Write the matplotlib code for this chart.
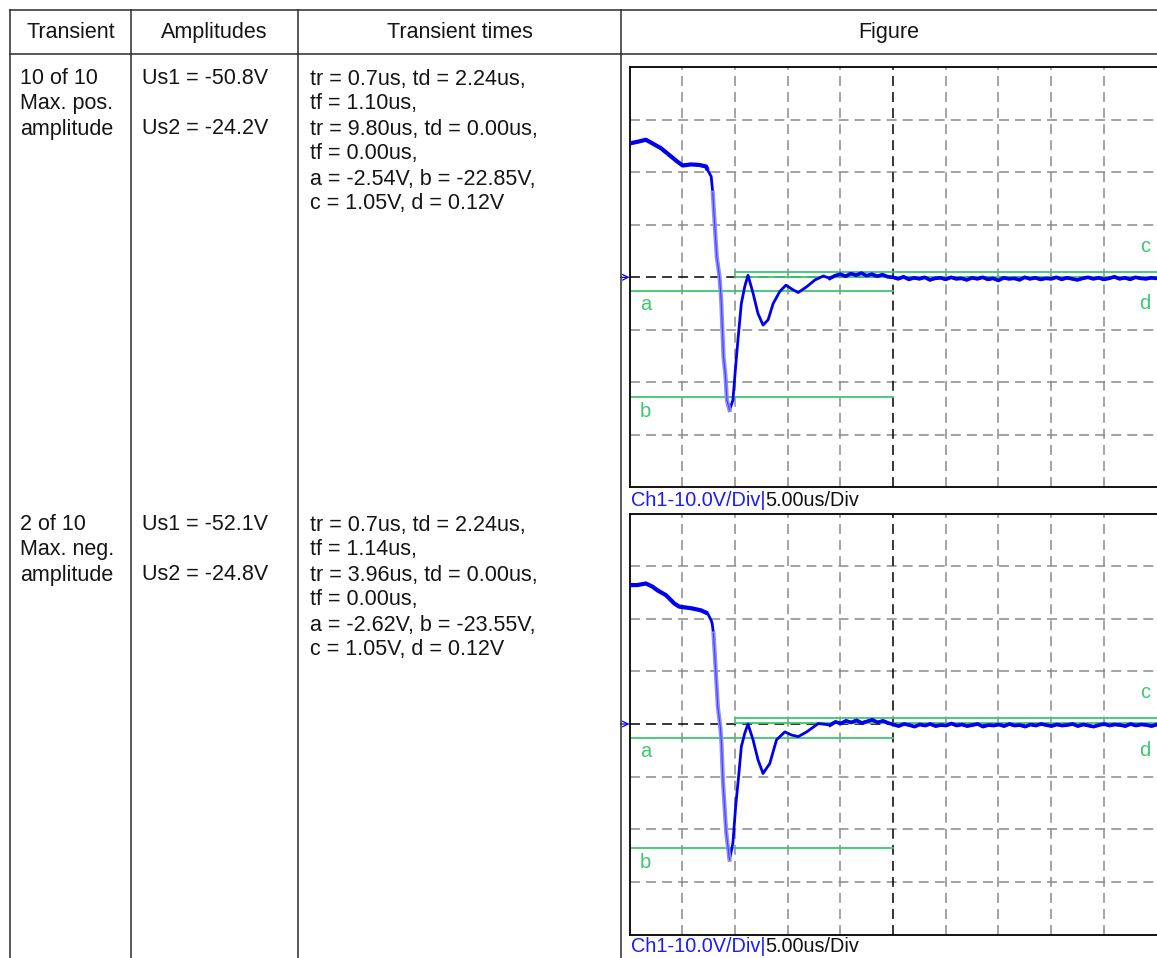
import numpy as np
import matplotlib
matplotlib.use("Agg")
import matplotlib.pyplot as plt
from matplotlib.lines import Line2D

plt.rcParams['font.family'] = ['Liberation Sans', 'DejaVu Sans']

# ---------------- data ----------------
headers = ["Transient", "Amplitudes", "Transient times", "Figure"]

row1_transient = ["10 of 10", "Max. pos.", "amplitude"]
row1_amplitudes = ["Us1 = -50.8V", "", "Us2 = -24.2V"]
row1_times = ["tr = 0.7us, td = 2.24us,", "tf = 1.10us,",
              "tr = 9.80us, td = 0.00us,", "tf = 0.00us,",
              "a = -2.54V, b = -22.85V,", "c = 1.05V, d = 0.12V"]

row2_transient = ["2 of 10", "Max. neg.", "amplitude"]
row2_amplitudes = ["Us1 = -52.1V", "", "Us2 = -24.8V"]
row2_times = ["tr = 0.7us, td = 2.24us,", "tf = 1.14us,",
              "tr = 3.96us, td = 0.00us,", "tf = 0.00us,",
              "a = -2.62V, b = -23.55V,", "c = 1.05V, d = 0.12V"]

# cursor levels (V)
levels1 = {"a": -2.54, "b": -22.85, "c": 1.05, "d": 0.12}
levels2 = {"a": -2.62, "b": -23.55, "c": 1.05, "d": 0.12}

# waveform 1 (time in us, voltage in V)
t1 = [0.0, 0.74, 1.55, 2.18, 2.98, 3.77, 4.56, 5.04, 5.84, 6.63, 7.27, 7.42,
      7.75, 7.90, 8.06, 8.28, 8.54, 8.70, 8.80, 8.92, 9.11, 9.24, 9.49,
      9.81, 10.07, 10.29, 10.61, 10.93, 11.24, 11.72, 12.19, 12.67, 13.15,
      13.63, 14.26, 14.84, 15.53, 16.01, 16.81, 17.60, 18.40, 19.00]
v1 = [25.5, 25.8, 26.2, 25.5, 24.6, 23.3, 22.0, 21.3, 21.5, 21.4, 21.1, 20.4,
      19.2, 16.1, 10.9, 3.9, 0.1, -4.3, -9.4, -15.1, -18.9, -23.4, -25.3,
      -23.4, -17.0, -11.9, -5.0, -1.8, 0.4, -3.0, -6.9, -9.1, -8.1,
      -5.0, -2.7, -1.5, -2.4, -2.9, -1.8, -0.5, 0.25, -0.2]
tail1 = [0.3, 0.6, 0.2, 0.7, 0.4, 0.8, 0.3, 0.6, 0.2, 0.5, 0.1,
         0.0, -0.3, 0.1, -0.4, -0.1, -0.3, 0.0, -0.5, -0.2, -0.1, -0.4, 0.0,
         -0.3, -0.2, -0.5, -0.1, -0.3, 0.0, -0.4, -0.2, -0.6, -0.1, -0.3,
         -0.2, -0.5, 0.0, -0.3, -0.1, -0.4, -0.2, -0.3, 0.0, -0.4, -0.1,
         -0.3, -0.5, -0.2, 0.0, -0.3, -0.1, -0.4, -0.2, 0.1, -0.3, -0.1,
         -0.4, 0.0, -0.2, -0.3, -0.1, -0.2]

# waveform 2
t2 = [0.0, 0.74, 1.55, 2.18, 2.65, 3.45, 4.25, 4.72, 5.84, 6.79, 7.42, 7.75,
      7.84, 7.97, 8.16, 8.38, 8.61, 8.73, 8.86, 9.02, 9.18, 9.49,
      9.81, 10.07, 10.38, 10.61, 10.93, 11.24, 11.72, 12.19, 12.67, 13.31,
      13.95, 14.74, 15.38, 16.01, 16.81, 17.92, 19.04]
v2 = [26.4, 26.4, 26.7, 26.1, 25.4, 24.5, 22.9, 22.3, 22.0, 21.6, 21.0, 19.7,
      19.1, 17.2, 10.9, 3.3, -0.5, -3.7, -10.6, -15.7, -20.7, -25.8,
      -22.6, -15.7, -9.4, -4.3, -1.8, 0.0, -3.0, -6.8, -9.4, -7.5,
      -3.0, -1.5, -2.1, -2.4, -1.5, 0.1, -0.2]
tail2 = [0.4, 0.1, 0.6, 0.3, 0.7, 0.2, 0.5, 0.8, 0.3, 0.6, 0.2,
         -0.1, -0.4, 0.0, -0.2, -0.5, -0.1, -0.3, 0.0, -0.4, -0.2, -0.3, 0.1,
         -0.3, -0.1, -0.4, -0.2, 0.0, -0.5, -0.2, -0.3, -0.1, -0.4, 0.0,
         -0.3, -0.2, -0.5, -0.1, -0.3, 0.0, -0.2, -0.4, -0.1, -0.3, -0.2,
         0.0, -0.4, -0.1, -0.3, -0.5, -0.2, 0.0, -0.3, -0.1, -0.2, -0.4,
         0.0, -0.3, -0.1, -0.2, -0.4, -0.1]

scope_label_ch = "Ch1-10.0V/Div|"
scope_label_time = "5.00us/Div"

# ---------------- figure ----------------
W, H = 1157, 958
fig = plt.figure(figsize=(W / 100, H / 100), dpi=100)
fig.patch.set_facecolor("white")


def fx(x):
    return x / W


def fy(y):
    return 1 - y / H


LC = "#2b2b2b"
LW = 1.1


def hline(y, x0, x1):
    fig.add_artist(Line2D([fx(x0), fx(x1)], [fy(y), fy(y)], color=LC, lw=LW))


def vline(x, y0, y1):
    fig.add_artist(Line2D([fx(x), fx(x)], [fy(y0), fy(y1)], color=LC, lw=LW))


# table grid
hline(10, 10, W + 2)
hline(54, 10, W + 2)
for x in [10, 131, 298, 621]:
    vline(x, 10, H + 2)

FS = 15.5
TXT = "#151515"
header_cx = [70.5, 214.5, 459.5, 889]
for h, cx in zip(headers, header_cx):
    fig.text(fx(cx), fy(32.5), h, ha="center", va="center", fontsize=FS, color=TXT)

LINE = 25.0


def draw_row(y0, col1, col2, col3):
    for i, s in enumerate(col1):
        fig.text(fx(20), fy(y0 + i * LINE), s, ha="left", va="center", fontsize=FS, color=TXT)
    for i, s in enumerate(col2):
        if s:
            fig.text(fx(142), fy(y0 + i * LINE), s, ha="left", va="center", fontsize=FS, color=TXT)
    for i, s in enumerate(col3):
        fig.text(fx(310), fy(y0 + i * LINE), s, ha="left", va="center", fontsize=FS, color=TXT)


draw_row(79, row1_transient, row1_amplitudes, row1_times)
draw_row(525, row2_transient, row2_amplitudes, row2_times)

GREEN = "#3cc870"
BLUE = "#0000ee"
LIGHT = "#8c8cff"


def scope(box, t, v, tail, lev, label_y):
    left, top, right, bottom = box
    ax = fig.add_axes([fx(left), fy(bottom), fx(right) - fx(left), fy(top) - fy(bottom)])
    ax.set_xlim(0, 50)
    ax.set_ylim(-40, 40)
    ax.set_xticks([])
    ax.set_yticks([])
    for s in ["left", "top", "bottom"]:
        ax.spines[s].set_color("black")
        ax.spines[s].set_linewidth(1.3)
    ax.spines["right"].set_visible(False)
    dash = (0, (6.5, 4.0))
    for xv in [5, 10, 15, 20, 30, 35, 40, 45]:
        ax.axvline(xv, color="#8a8a8a", lw=1.1, linestyle=dash, zorder=1)
    for yv in [-30, -20, -10, 10, 20, 30]:
        ax.axhline(yv, color="#8a8a8a", lw=1.1, linestyle=dash, zorder=1)
    ax.axvline(25, color="black", lw=1.1, linestyle=dash, zorder=1)
    ax.axhline(0, color="black", lw=1.1, linestyle=dash, zorder=1)

    # cursors
    ax.plot([0, 25], [lev["a"]] * 2, color=GREEN, lw=1.3, zorder=2)
    ax.plot([0, 25], [lev["b"]] * 2, color=GREEN, lw=1.3, zorder=2)
    ax.plot([10, 50], [lev["c"]] * 2, color=GREEN, lw=1.3, zorder=2)
    ax.plot([10, 50], [lev["d"]] * 2, color=GREEN, lw=1.3, zorder=2)
    lf = 14.5
    ax.text(1.0, lev["a"] - 2.7, "a", color=GREEN, fontsize=lf, ha="left", va="center")
    ax.text(1.0, lev["b"] - 2.7, "b", color=GREEN, fontsize=lf, ha="left", va="center")
    ax.text(49.4, lev["c"] + 4.9, "c", color=GREEN, fontsize=lf, ha="right", va="center")
    ax.text(49.4, lev["d"] - 5.1, "d", color=GREEN, fontsize=lf, ha="right", va="center")

    tail_t = list(t[-1] + 0.5 + 0.5 * np.arange(len(tail)))
    tt = list(t) + tail_t
    vv = list(v) + list(tail)
    ax.plot(tt, vv, color=BLUE, lw=2.0, zorder=3, solid_joinstyle="round")
    # noisy, thicker head and tail
    ih = next(i for i, x in enumerate(t) if x >= 7.4)
    ax.plot(t[:ih + 1], v[:ih + 1], color=BLUE, lw=3.0, zorder=3,
            solid_joinstyle="round", solid_capstyle="butt")
    ax.plot([t[-1]] + tail_t, [v[-1]] + list(tail), color=BLUE, lw=2.6, zorder=3,
            solid_joinstyle="round")
    # faint fast falling edge
    i0 = next(i for i, x in enumerate(t) if x >= 7.85)
    i1 = int(np.argmin(v))
    ax.plot(t[i0:i1 + 1], v[i0:i1 + 1], color=LIGHT, lw=3.0, zorder=4)
    ax.plot(t[i0:i1 + 1], v[i0:i1 + 1], color="#3a3aff", lw=0.7, zorder=5)

    ax.annotate("", xy=(0, 0.5), xytext=(-0.017, 0.5), xycoords="axes fraction",
                arrowprops=dict(arrowstyle="->", color=BLUE, lw=0.9,
                                shrinkA=0, shrinkB=0), annotation_clip=False)

    t_ch = fig.text(fx(631), fy(label_y), scope_label_ch, color="#1a1aff",
                    fontsize=14.3, ha="left", va="center")
    ax.annotate(scope_label_time, xy=(1, 0.5), xycoords=t_ch, ha="left", va="center",
                fontsize=14.3, color="#111111", annotation_clip=False)
    return ax


scope((629.5, 67.3, 1156.5, 487.3), t1, v1, tail1, levels1, 500)
scope((629.5, 513.5, 1156.5, 934.5), t2, v2, tail2, levels2, 947)

fig.savefig("out.png", dpi=100, facecolor="white")
